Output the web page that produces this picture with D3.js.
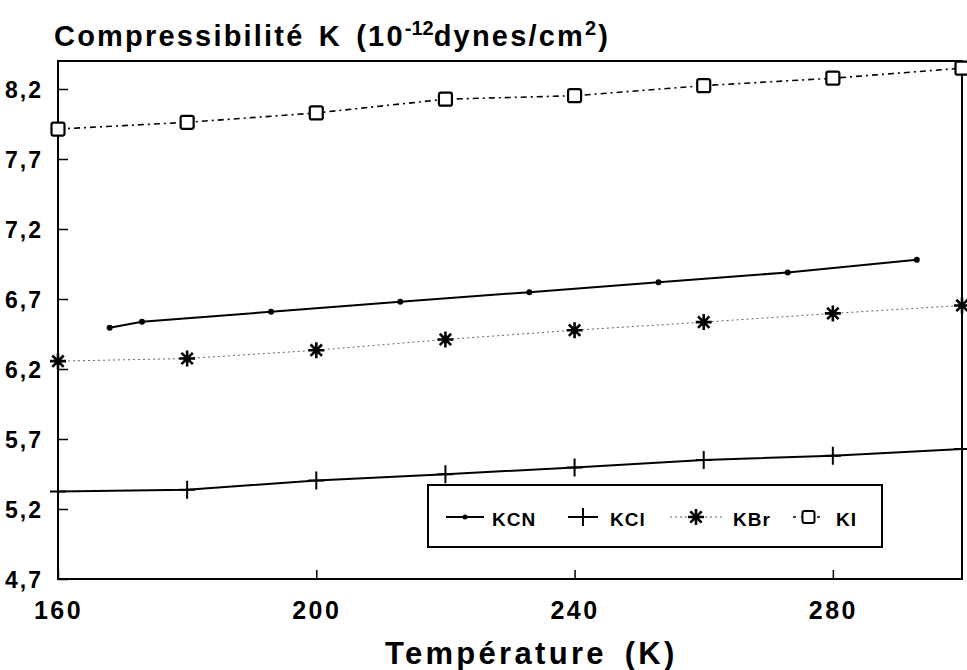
<!DOCTYPE html>
<html>
<head>
<meta charset="utf-8">
<script src="https://cdn.jsdelivr.net/npm/d3@7"></script>
<style>
  html, body { margin: 0; padding: 0; background: #fff; }
  svg { display: block; font-family: "Liberation Sans", Arial, Helvetica, sans-serif; font-weight: bold; }
</style>
</head>
<body>
<svg id="chart" width="967" height="670"></svg>
<script>
// ---- data ----
const kcnT = [168, 173, 193, 213, 233, 253, 273, 293];
const kcnK = [6.495, 6.538, 6.609, 6.681, 6.749, 6.819, 6.890, 6.981];

const tempsAll = [160, 180, 200, 220, 240, 260, 280, 300];
const kclK = [5.325, 5.337, 5.404, 5.449, 5.497, 5.550, 5.580, 5.628];
const kbrK = [6.256, 6.275, 6.334, 6.411, 6.477, 6.535, 6.597, 6.654];
const kiK  = [7.914, 7.962, 8.029, 8.127, 8.152, 8.224, 8.277, 8.349];

const xTicks = [160, 200, 240, 280];
const yTicks = [4.7, 5.2, 5.7, 6.2, 6.7, 7.2, 7.7, 8.2];
const seriesNames = ["KCN", "KCl", "KBr", "KI"];

// ---- layout ----
const svg = d3.select("#chart");
const L = 58, R = 962, T = 61, B = 579;
const x = d3.scaleLinear().domain([160, 300]).range([L, R]);
const y = d3.scaleLinear().domain([4.7, 8.4]).range([B, T]);
const comma = v => d3.format(".1f")(v).replace(".", ",");

// frame
svg.append("rect").attr("x", L).attr("y", T).attr("width", R - L).attr("height", B - T)
  .attr("fill", "none").attr("stroke", "#000").attr("stroke-width", 2);

// y axis (inward ticks)
const yAxis = svg.append("g").attr("transform", `translate(${L},0)`)
  .call(d3.axisLeft(y).tickValues(yTicks).tickSize(-10).tickPadding(15).tickFormat(comma));
yAxis.select(".domain").remove();
yAxis.selectAll(".tick line").attr("stroke", "#000").attr("stroke-width", 1.5);
yAxis.selectAll(".tick text").attr("font-size", 23).attr("font-weight", "bold")
  .attr("font-family", "Liberation Sans, Arial, sans-serif").attr("fill", "#000")
  .attr("letter-spacing", 2).attr("dy", "0.36em");

// x axis (inward ticks)
const xAxis = svg.append("g").attr("transform", `translate(0,${B})`)
  .call(d3.axisBottom(x).tickValues(xTicks).tickSize(-9).tickPadding(21).tickFormat(d3.format("d")));
xAxis.select(".domain").remove();
xAxis.selectAll(".tick line").attr("stroke", "#000").attr("stroke-width", 1.5);
xAxis.selectAll(".tick text").attr("font-size", 25).attr("font-weight", "bold")
  .attr("font-family", "Liberation Sans, Arial, sans-serif").attr("fill", "#000")
  .attr("letter-spacing", 2.5).attr("dy", "0.75em");

// title
const title = svg.append("text").attr("x", 54).attr("y", 46).attr("font-size", 29)
  .attr("letter-spacing", 2.2).attr("word-spacing", 4).attr("fill", "#000");
title.append("tspan").text("Compressibilité K (10");
title.append("tspan").attr("font-size", 20).attr("dy", -11).attr("letter-spacing", 0).text("-12");
title.append("tspan").attr("dy", 11).text("dynes/cm");
title.append("tspan").attr("font-size", 20).attr("dy", -11).text("2");
title.append("tspan").attr("dy", 11).text(")");

// x label
svg.append("text").attr("x", 385).attr("y", 664).attr("text-anchor", "start")
  .attr("font-size", 31).attr("letter-spacing", 3.3).attr("word-spacing", 6)
  .attr("fill", "#000").text("Température (K)");

const line = d3.line().x(d => x(d[0])).y(d => y(d[1]));
const zip = (a, b) => a.map((v, i) => [v, b[i]]);

const plot = svg.append("g");

// marker shapes
const plusPath = "M-8,0H8M0,-9V9";
const starPath = "M0,-8V8M-8,0H8M-5.7,-5.7L5.7,5.7M-5.7,5.7L5.7,-5.7";

// KBr dotted line
plot.append("path").datum(zip(tempsAll, kbrK)).attr("d", line)
  .attr("fill", "none").attr("stroke", "#666").attr("stroke-width", 1).attr("stroke-dasharray", "2,3");
// KI dash-dot line
plot.append("path").datum(zip(tempsAll, kiK)).attr("d", line)
  .attr("fill", "none").attr("stroke", "#000").attr("stroke-width", 1.6).attr("stroke-dasharray", "6,4,2,4");
// KCN solid
plot.append("path").datum(zip(kcnT, kcnK)).attr("d", line)
  .attr("fill", "none").attr("stroke", "#000").attr("stroke-width", 2);
// KCl solid
plot.append("path").datum(zip(tempsAll, kclK)).attr("d", line)
  .attr("fill", "none").attr("stroke", "#000").attr("stroke-width", 2);

// markers
plot.selectAll(".kcn").data(zip(kcnT, kcnK)).join("circle")
  .attr("cx", d => x(d[0])).attr("cy", d => y(d[1])).attr("r", 3).attr("fill", "#000");
plot.selectAll(".kcl").data(zip(tempsAll, kclK)).join("path")
  .attr("transform", d => `translate(${x(d[0])},${y(d[1])})`).attr("d", plusPath)
  .attr("stroke", "#000").attr("stroke-width", 2).attr("fill", "none");
plot.selectAll(".kbr").data(zip(tempsAll, kbrK)).join("path")
  .attr("transform", d => `translate(${x(d[0])},${y(d[1])})`).attr("d", starPath)
  .attr("stroke", "#000").attr("stroke-width", 2.6).attr("fill", "none");
plot.selectAll(".ki").data(zip(tempsAll, kiK)).join("rect")
  .attr("x", d => x(d[0]) - 6.5).attr("y", d => y(d[1]) - 6.5).attr("width", 13).attr("height", 13)
  .attr("rx", 2).attr("fill", "#fff").attr("stroke", "#000").attr("stroke-width", 2.2);

// legend
const lg = svg.append("g");
lg.append("rect").attr("x", 428).attr("y", 485).attr("width", 454).attr("height", 62)
  .attr("fill", "#fff").attr("stroke", "#000").attr("stroke-width", 2);
const ly = 517;
const items = [
  { x0: 446, x1: 484, tx: 492 },
  { x0: 568, x1: 598, tx: 610 },
  { x0: 670, x1: 722, tx: 733 },
  { x0: 793, x1: 824, tx: 836 }
];
items.forEach((it, i) => {
  const g = lg.append("g");
  const ln = g.append("line").attr("x1", it.x0).attr("x2", it.x1).attr("y1", ly).attr("y2", ly).attr("stroke", "#000");
  const cx = (it.x0 + it.x1) / 2;
  if (i === 0) {
    ln.attr("stroke-width", 2);
    g.append("circle").attr("cx", cx).attr("cy", ly).attr("r", 2.5).attr("fill", "#000");
  } else if (i === 1) {
    ln.attr("stroke-width", 2);
    g.append("path").attr("transform", `translate(${cx},${ly})`).attr("d", plusPath)
      .attr("stroke", "#000").attr("stroke-width", 2);
  } else if (i === 2) {
    ln.attr("stroke", "#666").attr("stroke-width", 1).attr("stroke-dasharray", "2,3");
    g.append("path").attr("transform", `translate(${cx},${ly})`).attr("d", starPath)
      .attr("stroke", "#000").attr("stroke-width", 2.6);
  } else {
    ln.attr("stroke-width", 1.6).attr("stroke-dasharray", "3,5");
    g.append("rect").attr("x", cx - 6).attr("y", ly - 6).attr("width", 12).attr("height", 12).attr("rx", 2)
      .attr("fill", "#fff").attr("stroke", "#000").attr("stroke-width", 2);
  }
  g.append("text").attr("x", it.tx).attr("y", ly + 9).attr("font-size", 19).attr("letter-spacing", 1)
    .attr("fill", "#000").text(seriesNames[i]);
});
</script>
</body>
</html>
